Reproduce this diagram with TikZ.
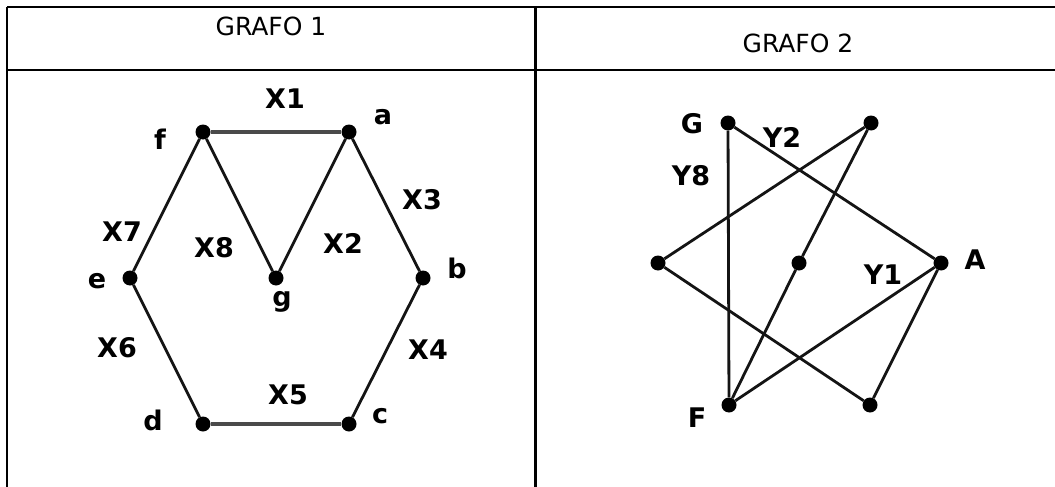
\documentclass[tikz,border=0pt]{standalone}
\usepackage{fontspec}
\setmainfont{DejaVu Sans}
\usepackage{tikz}
\usetikzlibrary{positioning,calc}
\usepackage{xcolor}
\definecolor{rule0}{HTML}{000000}
\definecolor{edge0}{HTML}{141414}
\definecolor{edge1}{HTML}{4A4A4A}

\begin{document}
\begin{tikzpicture}[
    x=1pt,y=-1pt,
    vert/.style={circle,fill=black,minimum size=15pt,inner sep=0pt},
    lbl/.style={font=\fontsize{27}{32}\selectfont\bfseries,inner sep=0pt},
    head/.style={font=\fontsize{25}{30}\selectfont,inner sep=0pt},
    grid/.style={rule0,line width=2.2pt},
    edg/.style={edge0,line width=2.8pt},
    flat/.style={edge1,line width=3.4pt}
]
\useasboundingbox (0,0) rectangle (1055,487);

% table
\coordinate (tl) at (7,7);
\coordinate (tr) at (1055,7);
\coordinate (hl) at (7,70);
\coordinate (hr) at (1055,70);
\coordinate (bl) at (7,487);
\coordinate (mt) at (535.5,7);
\coordinate (mb) at (535.5,487);
\draw[grid] (tl) -- (tr);
\draw[grid] (hl) -- (hr);
\draw[grid] (tl) -- (bl);
\draw[grid] (mt) -- (mb);

\node[head] (h1) at (271,26) {GRAFO 1};
\node[head] (h2) at (798,43) {GRAFO 2};

% grafo 1
\node[vert] (f) at (203,132) {};
\node[vert] (a) at (349,132) {};
\node[vert] (e) at (130,278) {};
\node[vert] (g) at (276,278) {};
\node[vert] (b) at (423,278) {};
\node[vert] (d) at (203,424) {};
\node[vert] (c) at (349,424) {};

\draw[flat] (f) -- (a);
\draw[flat] (d) -- (c);
\draw[edg] (a) -- (b);
\draw[edg] (b) -- (c);
\draw[edg] (d) -- (e);
\draw[edg] (e) -- (f);
\draw[edg] (f) -- (g);
\draw[edg] (g) -- (a);

\node[lbl] (lf) at (160,139) {f};
\node[lbl] (la) at (383,117) {a};
\node[lbl] (le) at (97,281) {e};
\node[lbl] (lg) at (282,302) {g};
\node[lbl] (lb) at (457,268) {b};
\node[lbl] (ld) at (153,420) {d};
\node[lbl] (lc) at (380,416) {c};
\node[lbl] (x1) at (285,99) {X1};
\node[lbl] (x2) at (343,243) {X2};
\node[lbl] (x3) at (422,200) {X3};
\node[lbl] (x4) at (428,350) {X4};
\node[lbl] (x5) at (288,395) {X5};
\node[lbl] (x6) at (117,348) {X6};
\node[lbl] (x7) at (122,232) {X7};
\node[lbl] (x8) at (214,248) {X8};

% grafo 2
\node[vert] (G) at (728,123) {};
\node[vert] (N) at (871,123) {};
\node[vert] (W) at (658,263) {};
\node[vert] (C) at (799,263) {};
\node[vert] (A) at (941,263) {};
\node[vert] (F) at (729,405) {};
\node[vert] (S) at (870,405) {};

\draw[edg] (G) -- (F);
\draw[edg] (G) -- (A);
\draw[edg] (N) -- (W);
\draw[edg] (N) -- (C);
\draw[edg] (C) -- (F);
\draw[edg] (W) -- (S);
\draw[edg] (F) -- (A);
\draw[edg] (A) -- (S);

\node[lbl] (lG) at (692,124) {G};
\node[lbl] (lA) at (975,260) {A};
\node[lbl] (lF) at (697,418) {F};
\node[lbl] (y1) at (883,275) {Y1};
\node[lbl] (y2) at (782,137) {Y2};
\node[lbl] (y8) at (691,176) {Y8};
\end{tikzpicture}
\end{document}
